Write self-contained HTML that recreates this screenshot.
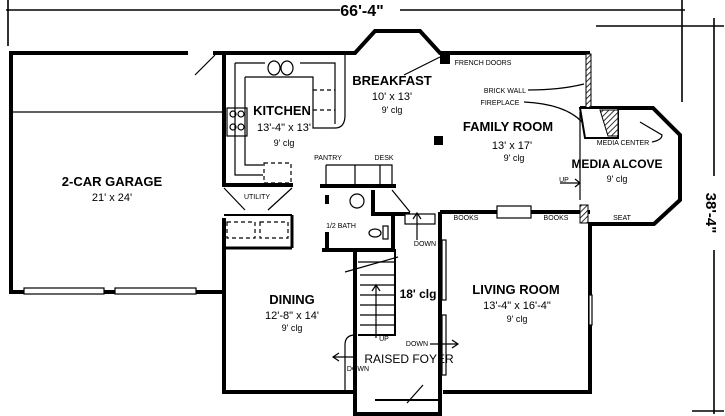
<!DOCTYPE html>
<html><head><meta charset="utf-8"><style>
html,body{margin:0;padding:0;background:#fff}
svg{display:block}
text{font-family:"Liberation Sans",Arial,sans-serif;fill:#000}
.b{font-weight:bold}
</style></head><body>
<svg width="725" height="416" viewBox="0 0 725 416">
<defs><pattern id="h" width="4" height="4" patternUnits="userSpaceOnUse" patternTransform="rotate(45)"><rect width="4" height="4" fill="#fff"/><line x1="0" y1="0" x2="0" y2="4" stroke="#000" stroke-width="1.6"/></pattern></defs>
<g stroke="#000" stroke-width="1.6" fill="none">
<line x1="6" y1="10" x2="340" y2="10"/><line x1="400" y1="10" x2="685" y2="10"/>
<line x1="8" y1="0" x2="8" y2="46"/><line x1="682" y1="0" x2="682" y2="102"/>
<line x1="596" y1="26" x2="724" y2="26"/>
<line x1="714" y1="18" x2="714" y2="176"/><line x1="714" y1="250" x2="714" y2="414"/>
<line x1="692" y1="411" x2="724" y2="411"/>
</g>
<text x="362" y="16" class="b" font-size="16" text-anchor="middle">66'-4"</text>
<text transform="translate(706,213) rotate(90)" class="b" font-size="15" text-anchor="middle">38'-4"</text>
<g stroke="#000" stroke-width="4" fill="none" stroke-linejoin="miter">
<path d="M188,53 L11,53 L11,292 L224,292"/>
<path d="M213,53 L355,53 L375,31 L420,31 L440,53 L588,53 L588,108"/>
<path d="M224,53 L224,185 L293,185"/>
<path d="M580,108 L653,108 L680,135 L680,200 L654,224 L588,224"/>
<path d="M590,222 L590,392 L443,392"/>
<path d="M224,218 L224,392 L355,392"/>
<path d="M355,250 L355,414 L440,414 L440,212"/>
<path d="M440,212 L590,212"/>
<path d="M320,186 L396,186"/>
<path d="M373,190 L373,214 L393,214 L393,250 L322,250"/>
<path d="M395,214 L410,214"/>
<path d="M327,195 L327,204 M327,232 L327,250"/>
</g>
<g stroke="#000" stroke-width="1.2" fill="none">
<rect x="24" y="288" width="80" height="6" fill="#fff"/><rect x="115" y="288" width="81" height="6" fill="#fff"/>
<line x1="11" y1="112" x2="222" y2="112"/>
<line x1="195" y1="75" x2="215" y2="55"/>
<path d="M235,63 L235,175 L263,175 M245,77 L245,165 L263,165"/>
<path d="M235,63 L265,63 M300,63 L335,63 L335,124 M245,77 L313,77 L313,128 L335,128 Q345,128 345,115 L345,55"/>
<path d="M313,90 L335,90 M313,110 L335,110" stroke-dasharray="4 3"/>
<rect x="227" y="108" width="20" height="28"/>
<circle cx="233" cy="114" r="3"/><circle cx="241" cy="114" r="3"/><circle cx="233" cy="127" r="3"/><circle cx="241" cy="127" r="3"/>
<ellipse cx="274" cy="68" rx="6" ry="7"/><ellipse cx="287" cy="68" rx="6" ry="7"/>
<rect x="264" y="163" width="27" height="20" stroke-dasharray="4 3"/>
<path d="M224,188 L245,210 M292,188 L268,210"/>
<rect x="227" y="222" width="28" height="16" stroke-dasharray="4 3"/><rect x="260" y="222" width="28" height="16" stroke-dasharray="4 3"/>
<line x1="224" y1="248" x2="292" y2="248" stroke-width="3"/>
<line x1="224" y1="215" x2="292" y2="215" stroke-width="2"/>
<line x1="292" y1="215" x2="292" y2="248" stroke-width="3"/>
<path d="M326,165 L392,165 L392,186 M326,165 L326,186 M355,165 L355,186 M380,165 L380,186"/>
<circle cx="357" cy="201" r="7"/>
<ellipse cx="375" cy="233" rx="6" ry="4"/><rect x="383" y="226" width="5" height="13"/>
<line x1="392" y1="190" x2="410" y2="212"/>
<rect x="405" y="214" width="30" height="10" fill="#fff"/>
<line x1="417" y1="240" x2="417" y2="213"/><path d="M413,219 L417,213 L421,219"/>
<path d="M358,250 L395,250 L395,335 L358,335" stroke-width="2"/>
<line x1="358" y1="262" x2="395" y2="262"/>
<line x1="360" y1="275" x2="395" y2="275"/><line x1="360" y1="285" x2="395" y2="285"/><line x1="360" y1="295" x2="395" y2="295"/><line x1="360" y1="305" x2="395" y2="305"/><line x1="360" y1="315" x2="395" y2="315"/><line x1="360" y1="325" x2="395" y2="325"/>
<line x1="345" y1="272" x2="398" y2="257"/>
<line x1="376" y1="338" x2="376" y2="285"/><path d="M372,291 L376,285 L380,291"/>
<rect x="442" y="240" width="4" height="60" fill="#fff"/><rect x="442" y="315" width="4" height="60" fill="#fff"/>
<rect x="589" y="295" width="3" height="30" fill="#fff"/>
<rect x="497" y="206" width="34" height="12" fill="#fff"/>
<path d="M407,403 L423,385"/>
<path d="M440,57 L404,75"/>
<path d="M430,344 L458,344 M452,340 L458,344 L452,348"/>
<path d="M355,357 L333,357 M339,353 L333,357 L339,361"/>
<path d="M560,183 L580,183 M575,179 L580,183 L575,187"/>
<line x1="580" y1="112" x2="580" y2="200"/>
<path d="M355,335 Q345,335 345,345 L345,392"/>
<path d="M375,400 L440,400" stroke-width="2"/>
<path d="M528,90 Q560,90 584,84"/>
<path d="M524,102 Q565,104 582,122"/>
<path d="M652,142 Q662,140 662,135 L640,122"/>
</g>
<rect x="586" y="54" width="5" height="58" fill="url(#h)" stroke="#000"/>
<path d="M580,108 L618,108 L618,138 L585,138 Z" fill="#fff" stroke="#000" stroke-width="2"/>
<path d="M600,110 L618,110 L618,136 L608,136 Z" fill="url(#h)" stroke="#000"/>
<rect x="580" y="205" width="8" height="18" fill="url(#h)" stroke="#000"/>
<rect x="434" y="136" width="9" height="9" fill="#000"/>
<rect x="440" y="52" width="10" height="12" fill="#000"/>
<g class="b" font-size="13">
<text x="112" y="186" text-anchor="middle">2-CAR GARAGE</text>
<text x="282" y="115" text-anchor="middle">KITCHEN</text>
<text x="392" y="85" text-anchor="middle">BREAKFAST</text>
<text x="508" y="131" text-anchor="middle">FAMILY ROOM</text>
<text x="292" y="304" text-anchor="middle">DINING</text>
<text x="516" y="294" text-anchor="middle">LIVING ROOM</text>
</g>
<g font-size="11" text-anchor="middle">
<text x="112" y="201">21' x 24'</text>
<text x="284" y="131">13'-4" x 13'</text>
<text x="392" y="100">10' x 13'</text>
<text x="512" y="149">13' x 17'</text>
<text x="292" y="319">12'-8" x 14'</text>
<text x="517" y="309">13'-4" x 16'-4"</text>
<text x="418" y="298" class="b" font-size="12">18' clg</text>
<text x="409" y="363" font-size="12">RAISED FOYER</text>
<text x="617" y="168" font-size="12" class="b">MEDIA ALCOVE</text>
</g>
<g font-size="9" text-anchor="middle">
<text x="284" y="146">9' clg</text><text x="392" y="113">9' clg</text><text x="514" y="161">9' clg</text>
<text x="292" y="331">9' clg</text><text x="517" y="322">9' clg</text><text x="617" y="182">9' clg</text>
</g>
<g font-size="7" text-anchor="middle">
<text x="483" y="65">FRENCH DOORS</text><text x="505" y="93">BRICK WALL</text><text x="500" y="105">FIREPLACE</text>
<text x="623" y="145">MEDIA CENTER</text><text x="622" y="220">SEAT</text>
<text x="466" y="220">BOOKS</text><text x="556" y="220">BOOKS</text>
<text x="328" y="160">PANTRY</text><text x="384" y="160">DESK</text>
<text x="257" y="199">UTILITY</text><text x="341" y="228">1/2 BATH</text>
<text x="425" y="246">DOWN</text><text x="417" y="346">DOWN</text><text x="358" y="371">DOWN</text>
<text x="384" y="341">UP</text><text x="564" y="182">UP</text>
</g>
</svg>
</body></html>
